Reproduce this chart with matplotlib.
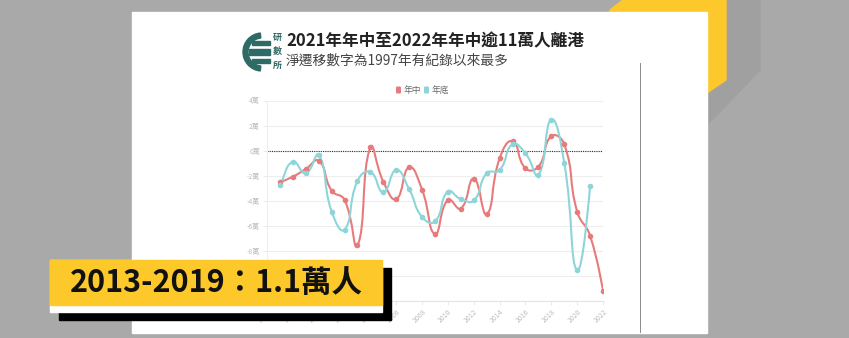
import matplotlib
matplotlib.use('Agg')
import matplotlib.pyplot as plt
import numpy as np
from matplotlib.path import Path
from matplotlib.patches import PathPatch, Rectangle, Polygon, Wedge, FancyBboxPatch

plt.rcParams['font.family'] = ['Noto Sans CJK TC', 'DejaVu Sans']

# data (net migration, in 萬)
years_mid = list(range(1997, 2023))
net_mid = [-2.52, -2.08, -1.47, -0.81, -3.19, -3.93, -7.56, 0.25, -2.47, -3.87,
           -1.33, -3.13, -6.65, -3.93, -4.62, -2.24, -5.07, -0.62, 0.75, -1.41,
           -1.28, 1.15, 0.52, -4.86, -6.79, -11.2]
years_end = list(range(1997, 2022))
net_end = [-2.74, -0.89, -1.81, -0.36, -4.86, -6.31, -2.42, -1.70, -3.32, -1.55,
           -3.08, -5.30, -5.65, -3.27, -3.87, -3.98, -1.81, -1.55, 0.50, -0.22,
           -1.94, 2.48, -0.97, -9.56, -2.82]
series_names = ['年中', '年底']
yticks = [4, 2, 0, -2, -4, -6, -8, -10, -12]
# the two lowest labels sit under the banner in the reference
ytick_labels = ['4萬', '2萬', '0萬', '-2萬', '-4萬', '-6萬', '-8萬', '', '']
xticks = list(range(1996, 2023, 2))

title = '2021年年中至2022年年中逾11萬人離港'
subtitle = '淨遷移數字為1997年有紀錄以來最多'
banner = '2013-2019：1.1萬人'

red = '#e77b7b'
cyan = '#8dd5d8'


def smooth_path(xs, ys, s=0.5):
    # echarts-like bezier smoothing through the data points
    pts = np.column_stack([xs, ys]).astype(float)
    n = len(pts)
    cp_in, cp_out = [], []
    for i in range(n):
        p = pts[i]
        prev = pts[i - 1] if i > 0 else p
        nxt = pts[i + 1] if i < n - 1 else p
        if i == n - 1:
            cp_in.append(p); cp_out.append(p)
            continue
        v = nxt - prev
        d0 = np.hypot(*(p - prev)); d1 = np.hypot(*(nxt - p))
        r = d1 / (d0 + d1) if d0 + d1 > 0 else 0.5
        cp_out.append(p + v * s * r)
        cp_in.append(p - v * s * (1 - r))
    verts = [pts[0]]
    codes = [Path.MOVETO]
    for i in range(n - 1):
        verts += [cp_out[i], cp_in[i + 1], pts[i + 1]]
        codes += [Path.CURVE4] * 3
    return Path(verts, codes)


fig = plt.figure(figsize=(8.49, 3.38), dpi=100)

# background layer in pixel coords
bg = fig.add_axes([0, 0, 1, 1], zorder=0)
bg.set_xlim(0, 849); bg.set_ylim(338, 0); bg.axis('off')
bg.add_patch(Rectangle((0, 0), 849, 338, color='#a9a9a9'))
bg.add_patch(Polygon([(700, 0), (760, 0), (760, 70), (707, 125), (700, 125)], color='#a0a0a0'))
bg.add_patch(Polygon([(623, 0), (726, 0), (726, 80), (707, 93), (610, 93), (610, 10)], color='#fcc82b'))
bg.add_patch(Rectangle((132, 12), 575, 321, color='white'))
bg.plot([640, 640], [63, 332], color='#8a8a8a', lw=0.7)

# logo
bg.add_patch(Wedge((262, 52), 19, 95, 265, width=5, color='#2e6b66'))
bg.add_patch(Rectangle((252, 41), 18, 4, color='#2e6b66'))
bg.add_patch(Rectangle((249, 49), 21, 6, color='#2e6b66'))
bg.add_patch(Rectangle((252, 59), 18, 4, color='#2e6b66'))
for ch, yy in zip(['研', '數', '所'], [37, 51, 65]):
    bg.text(277, yy, ch, fontsize=6.5, fontweight='bold', color='#2e6b66',
            ha='center', va='center')

# titles
bg.text(286, 41, title, fontsize=12, fontweight='bold', color='#222222', va='center')
bg.text(286, 61, subtitle, fontsize=9.9, color='#444444', va='center')

# legend
for name, col, x0 in zip(series_names, [red, cyan], [396, 424]):
    bg.add_patch(FancyBboxPatch((x0, 86.5), 5, 7, boxstyle='round,pad=0,rounding_size=1.2',
                                color=col, lw=0))
    bg.text(x0 + 7.5, 90, name, fontsize=6.3, color='#666666', va='center')

# chart
ax = fig.add_axes([267 / 849, 1 - 301 / 338, (603 - 267) / 849, (301 - 100.5) / 338], zorder=1)
ax.patch.set_alpha(0)
ax.set_xlim(1996, 2022)
ax.set_ylim(-12, 4)
ax.set_yticks(yticks)
ax.set_yticklabels(ytick_labels)
ax.set_xticks(xticks)
ax.set_xticklabels([str(x) for x in xticks], rotation=45, ha='right', rotation_mode='anchor')
ax.tick_params(axis='y', colors='#e6e6e6', labelcolor='#bdbdbd', labelsize=5, length=3, width=0.6, pad=2)
ax.tick_params(axis='x', colors='#e6e6e6', labelcolor='#bdbdbd', labelsize=5, length=3, width=0.6, pad=2)
ax.grid(axis='y', color='#eeeeee', lw=0.8)
ax.set_axisbelow(True)
for side in ['top', 'right']:
    ax.spines[side].set_visible(False)
ax.spines['left'].set_color('#eeeeee')
ax.spines['bottom'].set_color('#e3e3e3')
ax.axhline(0, color='#333333', ls=(0, (1, 1)), lw=0.8, zorder=2)

for xs, ys, col in [(years_mid, net_mid, red), (years_end, net_end, cyan)]:
    ax.add_patch(PathPatch(smooth_path(xs, ys), fill=False, edgecolor=col, lw=1.5, zorder=3))
    ax.plot(xs, ys, 'o', ms=3, color=col, zorder=4)

# banner overlay
ov = fig.add_axes([0, 0, 1, 1], zorder=3)
ov.set_xlim(0, 849); ov.set_ylim(338, 0); ov.axis('off')
ov.patch.set_alpha(0)
ov.add_patch(Rectangle((59, 268), 332, 52, color='black'))
ov.add_patch(Rectangle((50, 260), 332, 52, color='white'))
ov.add_patch(Rectangle((50, 260), 332, 45, color='#fdc82a'))
ov.text(216, 283, banner, fontsize=22, fontweight='bold', color='#111111',
        ha='center', va='center')

fig.savefig('out.png', dpi=100)
